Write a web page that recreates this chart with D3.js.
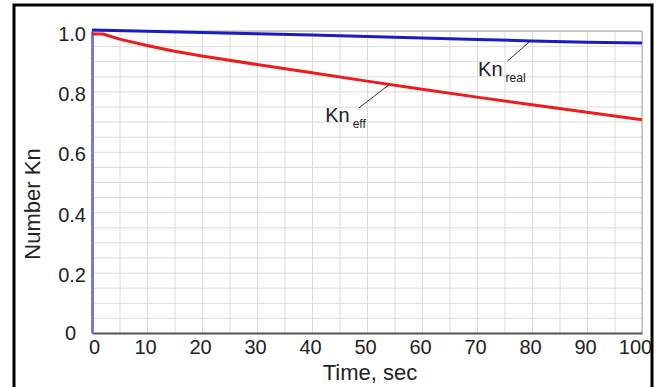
<!DOCTYPE html>
<meta charset="utf-8">
<script src="https://cdn.jsdelivr.net/npm/d3@7"></script>
<style>
  body { margin: 0; background: #fff; }
  text { font-family: "Liberation Sans", Arial, sans-serif; fill: #222; }
</style>
<div id="chart"></div>
<script>
// time, sec
var timeKnReal = [0, 10, 20, 30, 40, 50, 60, 70, 80, 90, 100];
var knReal     = [1.003, 0.999, 0.995, 0.991, 0.987, 0.982, 0.977, 0.972, 0.967, 0.963, 0.960];

var timeKnEff = [0, 2, 5, 10, 15, 20, 30, 40, 50, 60, 70, 80, 90, 100];
var knEff     = [0.99, 0.99, 0.973, 0.952, 0.933, 0.917, 0.889, 0.862, 0.834, 0.807, 0.781, 0.756, 0.731, 0.706];

var xTicks = [0, 10, 20, 30, 40, 50, 60, 70, 80, 90, 100];
var yTicks = [0, 0.2, 0.4, 0.6, 0.8, 1.0];

var W = 662, H = 387;
var margin = {top: 31, right: 20, bottom: 54, left: 92},
    width = 642 - margin.left,
    height = 333 - margin.top;

var svg = d3.select("#chart").append("svg")
  .attr("width", W).attr("height", H);

// outer black frame
svg.append("rect")
  .attr("x", 14).attr("y", 5).attr("width", 638).attr("height", 400)
  .attr("fill", "none").attr("stroke", "#000").attr("stroke-width", 3);

var g = svg.append("g").attr("transform", "translate(" + margin.left + "," + margin.top + ")");

var x = d3.scaleLinear().domain([0, 100]).range([0, width]);
var y = d3.scaleLinear().domain([0, 1]).range([height, 0]);

// grid every 5 sec and every 0.05
g.append("g")
  .call(d3.axisBottom(x).tickValues(d3.range(5, 101, 5)).tickSize(height).tickFormat(""))
  .call(function(s) { s.select(".domain").remove(); s.selectAll("line").attr("stroke", "#dcdcdc"); });
g.append("g")
  .call(d3.axisLeft(y).tickValues(d3.range(1, 21).map(function(i) { return i * 0.05; })).tickSize(-width).tickFormat(""))
  .call(function(s) { s.select(".domain").remove(); s.selectAll("line").attr("stroke", "#dcdcdc"); });

// plot frame
g.append("line").attr("x1", 0).attr("x2", width).attr("y1", 0).attr("y2", 0).attr("stroke", "#aaa");
g.append("line").attr("x1", width).attr("x2", width).attr("y1", 0).attr("y2", height).attr("stroke", "#aaa");

// x axis
var xa = g.append("g").attr("transform", "translate(0," + height + ")")
  .call(d3.axisBottom(x).tickValues(xTicks).tickSize(0).tickPadding(7).tickFormat(d3.format("d")));
xa.select(".domain").attr("stroke", "#555").attr("stroke-width", 2);
xa.selectAll("text").attr("font-size", 20).attr("fill", "#222")
  .attr("dx", function(d) { return d === 0 ? 2 : (d === 100 ? -7 : -2); });

// y axis
var ya = g.append("g")
  .call(d3.axisLeft(y).tickValues(yTicks).tickSize(0).tickPadding(6)
    .tickFormat(function(d) { return d === 0 ? "0" : d3.format(".1f")(d); }));
ya.select(".domain").attr("stroke", "#7a7ad8").attr("stroke-width", 3);
ya.selectAll("text").attr("font-size", 20).attr("fill", "#222")
  .attr("dy", function(d) { return d === 0 ? "0.3em" : "0.45em"; })
  .attr("dx", function(d) { return d === 0 ? -10 : 0; });

// series
var line = d3.line().x(function(d) { return x(d[0]); }).y(function(d) { return y(d[1]); });

g.append("path")
  .datum(timeKnEff.map(function(t, i) { return [t, knEff[i]]; }))
  .attr("fill", "none").attr("stroke", "#ee1c1c").attr("stroke-width", 3).attr("d", line);

g.append("path")
  .datum(timeKnReal.map(function(t, i) { return [t, knReal[i]]; }))
  .attr("fill", "none").attr("stroke", "#1c1cc4").attr("stroke-width", 3).attr("d", line);

// annotations
function label(tx, ty, sub, lx1, ly1, lx2, ly2) {
  g.append("line")
    .attr("x1", lx1).attr("y1", ly1).attr("x2", lx2).attr("y2", ly2)
    .attr("stroke", "#333").attr("stroke-width", 1);
  var t = g.append("text").attr("x", tx).attr("y", ty).attr("font-size", 20).attr("fill", "#222");
  t.append("tspan").text("Kn");
  t.append("tspan").attr("dx", 3).attr("dy", 6).attr("font-size", 12).text(sub);
}
label(x(70.2), y(0.852), "real", x(75.5), y(0.9), x(79.5), y(knReal[8]) + 1);
label(x(42.4), y(0.70), "eff", x(48.5), y(0.745), x(54), y(0.822));

// axis titles
svg.append("text")
  .attr("x", 370).attr("y", 380).attr("text-anchor", "middle")
  .attr("font-size", 22).text("Time, sec");
svg.append("text")
  .attr("transform", "translate(40,204) rotate(-90)").attr("text-anchor", "middle")
  .attr("font-size", 22).text("Number Kn");
</script>
